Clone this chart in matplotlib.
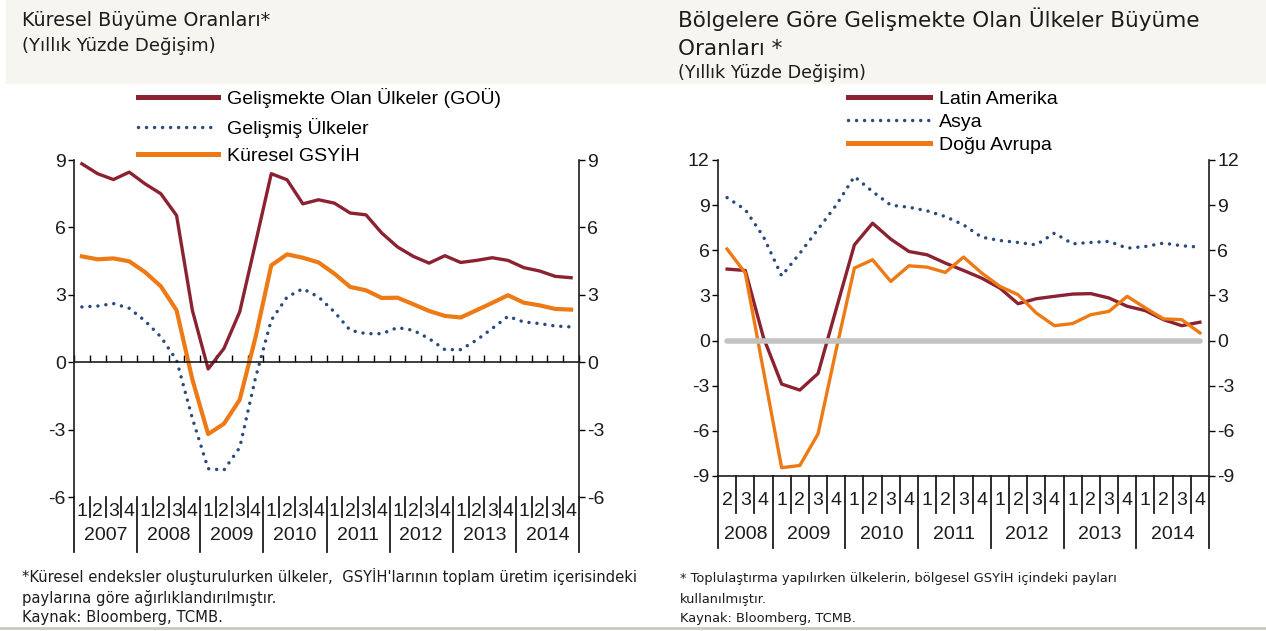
import numpy as np
import matplotlib
matplotlib.use("Agg")
import matplotlib.pyplot as plt
from matplotlib.patches import Rectangle
from matplotlib.lines import Line2D

plt.rcParams['font.family'] = ['Liberation Sans', 'DejaVu Sans']
plt.rcParams['axes.unicode_minus'] = False

W, H = 1266, 631

#- left panel: 2007Q1 .. 2014Q4
left_years = ['2007', '2008', '2009', '2010', '2011', '2012', '2013', '2014']
left_quarters = ['1', '2', '3', '4'] * 8
gou = [8.83, 8.39, 8.13, 8.46, 7.94, 7.5, 6.53, 2.31, -0.3, 0.61, 2.24, 5.3,
       8.39, 8.12, 7.05, 7.23, 7.08, 6.64, 6.56, 5.75, 5.13, 4.71, 4.41, 4.74,
       4.44, 4.53, 4.65, 4.53, 4.21, 4.06, 3.82, 3.76]
gelismis = [2.46, 2.5, 2.61, 2.4, 1.84, 1.13, 0.09, -2.5, -4.74, -4.8, -3.8, -0.7,
            1.87, 2.9, 3.27, 2.9, 2.24, 1.42, 1.27, 1.27, 1.54, 1.42, 1.05, 0.56,
            0.56, 0.98, 1.5, 2.04, 1.79, 1.72, 1.61, 1.57]
kuresel = [4.71, 4.58, 4.62, 4.49, 4.01, 3.38, 2.31, -0.77, -3.2, -2.74, -1.67, 1.1,
           4.31, 4.8, 4.65, 4.44, 3.94, 3.35, 3.2, 2.86, 2.87, 2.58, 2.28, 2.06,
           1.99, 2.31, 2.64, 2.98, 2.65, 2.53, 2.37, 2.34]

#- right panel: 2008Q2 .. 2014Q4
right_years = ['2008', '2009', '2010', '2011', '2012', '2013', '2014']
right_quarters = ['2', '3', '4'] + ['1', '2', '3', '4'] * 6
latin = [4.75, 4.66, 0.2, -2.89, -3.29, -2.19, 2.1, 6.36, 7.8, 6.74, 5.92, 5.7,
         5.15, 4.66, 4.15, 3.49, 2.45, 2.78, 2.94, 3.09, 3.12, 2.83, 2.28, 1.99,
         1.39, 0.99, 1.22]
asya = [9.5, 8.7, 6.9, 4.3, 5.8, 7.4, 9.0, 10.9, 9.9, 9.0, 8.86, 8.62, 8.24, 7.69,
        6.87, 6.65, 6.52, 6.36, 7.14, 6.43, 6.52, 6.59, 6.14, 6.25, 6.48, 6.3, 6.21]
dogu = [6.08, 4.49, -2.0, -8.45, -8.3, -6.2, -0.6, 4.82, 5.37, 3.93, 4.97, 4.88,
        4.53, 5.55, 4.49, 3.6, 3.05, 1.83, 0.99, 1.13, 1.72, 1.94, 2.94, 2.17,
        1.44, 1.39, 0.51]

MAROON = '#8b2232'
ORANGE = '#ee7a16'
NAVY = '#2b4a7c'
TXT = '#1c1c1c'
DOTS = (0, (0.01, 2.3))
TF = ['DejaVu Sans']


def fx(px):
    return px / W


def fy(py):
    return 1 - py / H


def quarter_axis(ax, quarters, years, qsep, ysep, qy, yy, fs=14):
    tr = ax.get_xaxis_transform()
    n = len(quarters)
    yidx = []
    k = 0
    for i, q in enumerate(quarters):
        if q == '1' and i > 0:
            k += 1
        yidx.append(k)
        ax.text(i, qy, q, transform=tr, ha='center', va='center',
                fontsize=fs, color=TXT)
    for k in range(n + 1):
        is_year = k == 0 or k == n or quarters[k] == '1'
        ax.plot([k - 0.5, k - 0.5], [0, ysep if is_year else qsep], transform=tr,
                color=TXT, lw=1.3, clip_on=False)
    for j, y in enumerate(years):
        pos = [i for i in range(n) if yidx[i] == j]
        ax.text(np.mean(pos), yy, y, transform=tr, ha='center', va='center',
                fontsize=fs, color=TXT)


def style_axes(ax):
    ax.spines['top'].set_visible(False)
    ax.tick_params(axis='y', direction='out', length=4, width=1, pad=2,
                   left=True, right=True, labelleft=True, labelright=True,
                   labelsize=14, labelcolor=TXT)
    for s in ax.spines.values():
        s.set_linewidth(1.2)
        s.set_color(TXT)


fig = plt.figure(figsize=(W / 100, H / 100), dpi=100)

fig.patches.append(Rectangle((fx(6), fy(83)), 1 - fx(6), 83 / H,
                             transform=fig.transFigure, color='#f6f5f0', zorder=0))
fig.lines.append(Line2D([0, 1], [fy(628), fy(628)], transform=fig.transFigure,
                        color='#cbc7bc', lw=2))

#- left chart
ax1 = fig.add_axes([fx(74), fy(497), fx(579) - fx(74), fy(160) - fy(497)])
x1 = np.arange(len(gou))
ax1.plot(x1, gou, color=MAROON, lw=2.4, label='Gelişmekte Olan Ülkeler (GOÜ)')
ax1.plot(x1, gelismis, color=NAVY, lw=2.5, linestyle=DOTS, dash_capstyle='round',
         label='Gelişmiş Ülkeler')
ax1.plot(x1, kuresel, color=ORANGE, lw=3.0, label='Küresel GSYİH')
ax1.set_xlim(-0.5, len(gou) - 0.5)
ax1.set_ylim(-6, 9)
ax1.set_yticks([-6, -3, 0, 3, 6, 9])
style_axes(ax1)
ax1.spines['bottom'].set_position(('data', 0))
ax1.set_xticks(np.arange(-0.5, len(gou), 1))
ax1.tick_params(axis='x', direction='in', length=5, width=1, labelbottom=False)
quarter_axis(ax1, left_quarters, left_years, -0.06, -0.163, -0.042, -0.114)
leg1 = ax1.legend(loc='upper left', bbox_to_anchor=(fx(138), fy(88)),
                  bbox_transform=fig.transFigure, frameon=False, fontsize=14,
                  handlelength=4.1, handletextpad=0.5, labelspacing=0.5,
                  borderpad=0, borderaxespad=0)
for ln, w in zip(leg1.get_lines(), [3.6, 2.5, 3.6]):
    ln.set_linewidth(w)

#- right chart
ax2 = fig.add_axes([fx(718), fy(476), fx(1209) - fx(718), fy(160) - fy(476)])
x2 = np.arange(len(latin))
ax2.plot(x2, latin, color=MAROON, lw=2.4, label='Latin Amerika')
ax2.plot(x2, asya, color=NAVY, lw=2.5, linestyle=DOTS, dash_capstyle='round',
         label='Asya')
ax2.plot(x2, dogu, color=ORANGE, lw=2.4, label='Doğu Avrupa')
ax2.plot([x2[0], x2[-1]], [0, 0], color='#c3c3c3', lw=4, solid_capstyle='round',
         zorder=5)
ax2.set_xlim(-0.5, len(latin) - 0.5)
ax2.set_ylim(-9, 12)
ax2.set_yticks(np.arange(-9, 13, 3))
ax2.set_xticks([])
style_axes(ax2)
quarter_axis(ax2, right_quarters, right_years, -0.117, -0.228, -0.079, -0.185)
leg2 = ax2.legend(loc='upper left', bbox_to_anchor=(fx(848), fy(90)),
                  bbox_transform=fig.transFigure, frameon=False, fontsize=14,
                  handlelength=4.2, handletextpad=0.5, labelspacing=0.28,
                  borderpad=0, borderaxespad=0)
for ln, w in zip(leg2.get_lines(), [3.6, 2.5, 3.6]):
    ln.set_linewidth(w)

#- titles and notes
fig.text(fx(22), fy(26), 'Küresel Büyüme Oranları*', family=TF, fontsize=13.8, color=TXT)
fig.text(fx(22), fy(51), '(Yıllık Yüzde Değişim)', family=TF, fontsize=13.1, color=TXT)
fig.text(fx(678), fy(27), 'Bölgelere Göre Gelişmekte Olan Ülkeler Büyüme',
         family=TF, fontsize=15.5, color=TXT)
fig.text(fx(678), fy(55), 'Oranları *', family=TF, fontsize=15.5, color=TXT)
fig.text(fx(678), fy(78), '(Yıllık Yüzde Değişim)', family=TF, fontsize=12.6, color=TXT)

fig.text(fx(22), fy(582), "*Küresel endeksler oluşturulurken ülkeler,  GSYİH'larının "
         "toplam üretim içerisindeki", family=TF, fontsize=10.6, color=TXT)
fig.text(fx(22), fy(603), 'paylarına göre ağırlıklandırılmıştır.', family=TF,
         fontsize=10.6, color=TXT)
fig.text(fx(22), fy(622), 'Kaynak: Bloomberg, TCMB.', family=TF, fontsize=10.6, color=TXT)
fig.text(fx(680), fy(582), '* Toplulaştırma yapılırken ülkelerin, bölgesel GSYİH '
         'içindeki payları', family=TF, fontsize=9.4, color=TXT)
fig.text(fx(680), fy(603), 'kullanılmıştır.', family=TF, fontsize=9.4, color=TXT)
fig.text(fx(680), fy(622), 'Kaynak: Bloomberg, TCMB.', family=TF, fontsize=9.4, color=TXT)

fig.savefig('out.png', dpi=100)
